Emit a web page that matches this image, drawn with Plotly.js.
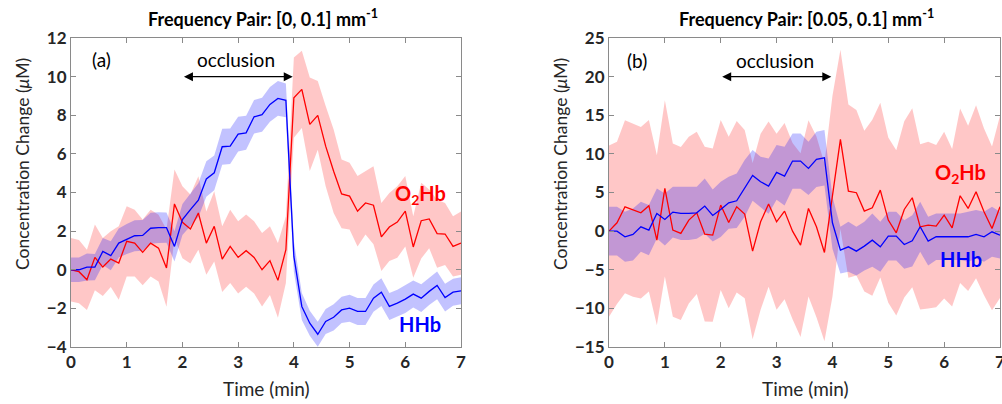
<!DOCTYPE html>
<html>
<head>
<meta charset="utf-8">
<script src="https://cdn.plot.ly/plotly-3.0.1.min.js"></script>
<style>html,body{margin:0;padding:0;background:#fff}#chart{width:1002px;height:404px}</style>
</head>
<body>
<div id="chart"></div>
<script>
// Time axis (min)
var time = [0,0.143,0.286,0.429,0.571,0.714,0.857,1,1.143,1.286,1.429,1.571,1.714,1.857,2,2.143,2.286,2.429,2.571,2.714,2.857,3,3.143,3.286,3.429,3.571,3.714,3.857,4,4.143,4.286,4.429,4.571,4.714,4.857,5,5.143,5.286,5.429,5.571,5.714,5.857,6,6.143,6.286,6.429,6.571,6.714,6.857,7];

// Panel (a): frequency pair [0, 0.1]
var hhbA = [0,0,0.14,0.14,0.95,0.73,1.38,1.59,1.76,1.78,2.15,2.18,2.18,1.21,2.6,3.11,3.6,4.7,5.02,6.37,6.4,7.02,7.09,7.92,8.03,8.56,8.87,8.77,0.69,-1.9,-2.77,-3.34,-2.68,-2.46,-2.08,-1.99,-2.16,-2.16,-1.47,-1.16,-1.9,-1.73,-1.52,-1.26,-1.47,-1.12,-0.81,-1.44,-1.16,-1.09];
var hhbStdA = [0.64,0.64,0.7,0.68,0.7,0.75,0.75,0.78,0.8,0.8,0.8,0.8,0.78,0.78,0.8,0.85,0.88,0.92,0.9,0.93,0.92,0.9,0.88,0.87,0.88,0.9,0.9,0.88,0.8,0.7,0.65,0.65,0.65,0.68,0.68,0.7,0.7,0.7,0.7,0.72,0.7,0.7,0.72,0.7,0.72,0.7,0.72,0.72,0.7,0.7];
var o2hbA = [0,-0.1,-0.52,0.64,0.14,0.55,0.35,1.47,1.38,0.9,1.38,1.12,0.09,3.41,2.46,2.11,2.94,1.38,2.25,0.55,1.21,0.64,0.99,0.64,0,0.47,-0.55,1.04,8.91,9.34,7.53,7.99,6.4,5.1,3.93,3.81,3.03,3.46,3.34,1.7,2.21,2.47,3.03,1.18,2.54,2.63,1.87,1.85,1.21,1.38];
var o2hbStdA = [1.64,1.64,1.56,1.7,1.5,1.44,1.9,1.82,1.73,1.7,1.73,1.73,2.0,1.78,1.87,1.78,1.9,1.64,1.82,1.7,1.9,1.87,1.87,1.87,1.9,1.78,1.94,1.73,2.08,2.0,2.42,1.78,2.08,2.16,1.78,1.73,1.82,1.64,2.02,1.76,1.76,1.85,1.82,1.59,1.96,1.52,1.76,1.61,1.56,1.64];

// Panel (b): frequency pair [0.05, 0.1]
var hhbB = [0,0,-0.73,-0.43,0.56,0.13,2.29,1.51,2.46,2.29,2.29,2.37,3.24,2.03,2.81,3.67,3.93,5.53,7.21,6.39,5.83,7.6,7.12,9.07,9.07,8.12,9.28,9.5,1.08,-2.46,-2.03,-2.59,-1.94,-1.17,-2.03,-0.65,-0.65,-1.73,-1.25,0.56,-1.3,-0.73,-0.73,-0.73,-0.73,-0.73,-0.43,-0.73,-0.09,-0.52];
var hhbStdB = [3.15,3.15,3.24,3.37,3.24,3.24,3.24,3.37,3.28,3.45,3.45,3.37,3.58,3.37,3.58,3.37,3.54,3.67,3.28,3.24,3.58,3.54,3.8,3.58,3.58,3.45,3.58,3.58,3.37,3.02,3.24,3.15,3.15,3.45,3.24,3.15,3.15,3.15,3.32,3.24,3.15,3.02,3.02,3.02,3.02,3.24,3.15,3.24,3.24,3.02];
var o2hbB = [0,1.08,3.15,2.72,2.37,3.28,-1.17,5.53,0.13,-0.3,1.43,2.37,-0.39,-0.52,3.37,1.12,3.15,2.2,-2.59,1.21,3.5,1.21,2.59,0,-1.81,2.94,0.56,-2.76,4.49,11.87,5.18,4.97,2.59,3.02,5.31,1.43,-0.22,2.81,4.32,0.56,0.78,0.65,2.07,0.43,4.58,2.94,5.1,2.5,0.35,3.15];
var o2hbStdB = [11.1,10.5,11.2,11.2,11.1,11.1,11.0,11.4,11.2,11.2,10.8,10.5,11.3,11.2,11.0,11.1,11.1,10.9,11.4,11.4,10.7,11.4,11.4,11.4,11.9,11.4,11.7,11.5,13.0,11.6,11.2,10.7,10.4,11.4,11.3,10.7,10.7,11.4,11.6,10.7,10.8,10.5,10.8,10.2,11.3,10.7,11.2,10.8,10.6,11.8];

var titleA = 'Frequency Pair: [0, 0.1] mm<sup>-1</sup>';
var titleB = 'Frequency Pair: [0.05, 0.1] mm<sup>-1</sup>';
var xTicksVals = [0,1,2,3,4,5,6,7];
var yTicksA = [-4,-2,0,2,4,6,8,10,12];
var yTicksB = [-15,-10,-5,0,5,10,15,20,25];

var RED = '#ff0000', BLUE = '#0000ff';
var RED_FILL = 'rgba(255,0,0,0.22)', BLUE_FILL = 'rgba(0,0,255,0.24)';

function band(t, m, s, color, xa, ya) {
  var up = m.map(function (v, i) { return v + s[i]; });
  var lo = m.map(function (v, i) { return v - s[i]; });
  return {
    x: t.concat(t.slice().reverse()),
    y: up.concat(lo.slice().reverse()),
    type: 'scatter', mode: 'lines', fill: 'toself', fillcolor: color,
    line: {width: 0, color: 'rgba(0,0,0,0)'}, hoverinfo: 'skip', showlegend: false,
    xaxis: xa, yaxis: ya
  };
}
function line(t, m, color, xa, ya) {
  return {x: t, y: m, type: 'scatter', mode: 'lines', line: {color: color, width: 1.3},
    showlegend: false, hoverinfo: 'skip', xaxis: xa, yaxis: ya};
}

var traces = [
  band(time, o2hbA, o2hbStdA, RED_FILL, 'x', 'y'),
  band(time, hhbA, hhbStdA, BLUE_FILL, 'x', 'y'),
  line(time, o2hbA, RED, 'x', 'y'),
  line(time, hhbA, BLUE, 'x', 'y'),
  band(time, o2hbB, o2hbStdB, RED_FILL, 'x2', 'y2'),
  band(time, hhbB, hhbStdB, BLUE_FILL, 'x2', 'y2'),
  line(time, o2hbB, RED, 'x2', 'y2'),
  line(time, hhbB, BLUE, 'x2', 'y2')
];

var FONT = 'Lato, "Open Sans", sans-serif';
var AX_COL = '#8a8a8a';
var TICKFONT = {family: FONT, size: 17, color: '#262626', weight: 'bold'};
function xax(dom, anchor) {
  return {domain: dom, anchor: anchor, range: [0, 7], tickvals: xTicksVals, showgrid: false, zeroline: false,
    showline: true, linecolor: AX_COL, linewidth: 1, mirror: 'ticks', ticks: 'inside', ticklen: 5,
    tickcolor: AX_COL, tickfont: TICKFONT, ticklabeloverflow: 'allow', fixedrange: true};
}
function yax(dom, anchor, rng, tv) {
  return {domain: dom, anchor: anchor, range: rng, tickvals: tv, showgrid: false, zeroline: false,
    showline: true, linecolor: AX_COL, linewidth: 1, mirror: 'ticks', ticks: 'inside', ticklen: 5,
    tickcolor: AX_COL, tickfont: TICKFONT, ticklabeloverflow: 'allow', fixedrange: true};
}

var yDom = [1 - 347 / 404, 1 - 38 / 404];
var annFont = {family: FONT, size: 19, color: '#000'};
function pa(x, y, text, font, extra) {
  var a = {xref: 'paper', yref: 'paper', x: x / 1002, y: 1 - y / 404, text: text, showarrow: false,
    xanchor: 'center', yanchor: 'middle', font: font};
  if (extra) for (var k in extra) a[k] = extra[k];
  return a;
}
function da(xr, yr, x, y, text, font) {
  return {xref: xr, yref: yr, x: x, y: y, text: text, showarrow: false, xanchor: 'center', yanchor: 'middle', font: font};
}
var titleFont = {family: FONT, size: 18, color: '#000', weight: 'bold'};
var labFont = {family: FONT, size: 19, color: '#262626'};
var yLabFont = {family: FONT, size: 17.5, color: '#262626'};
var annotations = [
  pa(263, 18, titleA, titleFont),
  pa(806, 18, titleB, titleFont),
  pa(266, 388, 'Time (min)', labFont),
  pa(805, 388, 'Time (min)', labFont),
  pa(22, 164, 'Concentration Change (<i>μ</i>M)', yLabFont, {textangle: -90}),
  pa(560, 164, 'Concentration Change (<i>μ</i>M)', yLabFont, {textangle: -90}),
  da('x', 'y', 0.54, 10.9, '(a)', annFont),
  da('x2', 'y2', 0.5, 22.1, '(b)', annFont),
  da('x', 'y', 2.97, 10.9, 'occlusion', annFont),
  da('x2', 'y2', 2.97, 22.1, 'occlusion', annFont),
  {xref: 'x', yref: 'y', axref: 'x', ayref: 'y', x: 3.98, y: 10, ax: 2.0, ay: 10, text: '', showarrow: true,
    arrowhead: 2, startarrowhead: 2, arrowside: 'end+start', arrowsize: 1.5, startarrowsize: 1.5, arrowwidth: 1.2, arrowcolor: '#000'},
  {xref: 'x2', yref: 'y2', axref: 'x2', ayref: 'y2', x: 3.98, y: 20, ax: 2.0, ay: 20, text: '', showarrow: true,
    arrowhead: 2, startarrowhead: 2, arrowside: 'end+start', arrowsize: 1.5, startarrowsize: 1.5, arrowwidth: 1.2, arrowcolor: '#000'},
  da('x', 'y', 6.27, 3.9, 'O<sub>2</sub>Hb', {family: FONT, size: 20, color: RED, weight: 'bold'}),
  da('x', 'y', 6.27, -2.83, 'HHb', {family: FONT, size: 20, color: BLUE, weight: 'bold'}),
  da('x2', 'y2', 6.3, 7.4, 'O<sub>2</sub>Hb', {family: FONT, size: 20, color: RED, weight: 'bold'}),
  da('x2', 'y2', 6.3, -3.6, 'HHb', {family: FONT, size: 20, color: BLUE, weight: 'bold'})
];

var layout = {
  width: 1002, height: 404,
  margin: {l: 0, r: 0, t: 0, b: 0},
  paper_bgcolor: '#fff', plot_bgcolor: '#fff',
  showlegend: false,
  font: {family: FONT},
  xaxis: xax([71 / 1002, 461 / 1002], 'y'),
  yaxis: yax(yDom, 'x', [-4, 12], yTicksA),
  xaxis2: xax([609 / 1002, 1000 / 1002], 'y2'),
  yaxis2: yax(yDom, 'x2', [-15, 25], yTicksB),
  annotations: annotations
};

Plotly.newPlot('chart', traces, layout, {displayModeBar: false, staticPlot: true});
</script>
</body>
</html>
